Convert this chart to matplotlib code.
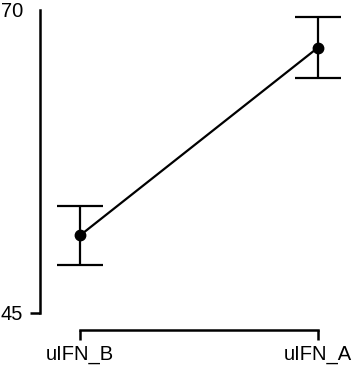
import matplotlib
matplotlib.use("Agg")
import matplotlib.pyplot as plt

categories = ["uIFN_B", "uIFN_A"]
means = [51.4, 66.9]
errors = [2.45, 2.5]
yticks = [45, 70]

W, H = 354, 368
fig = plt.figure(figsize=(W / 100, H / 100), dpi=100)
left, right, top, bottom = 40, 350, 10, 313
ax = fig.add_axes([left / W, 1 - bottom / H, (right - left) / W, (bottom - top) / H])

x = list(range(len(categories)))
ax.errorbar(x, means, yerr=errors, fmt='o-', color='black', lw=1.6,
            elinewidth=1.6, capsize=16.5, capthick=1.6, markersize=7.5)

ax.set_ylim(45, 70)
ax.set_xlim(-40 / 238, (right - 80) / 238)
ax.set_yticks(yticks)
ax.set_xticks(x)
ax.set_xticklabels(categories)

for s in ['top', 'right']:
    ax.spines[s].set_visible(False)
ax.spines['left'].set_linewidth(1.8)
ax.spines['bottom'].set_linewidth(1.8)
ax.spines['bottom'].set_position(('outward', 12.2))
ax.spines['bottom'].set_bounds(0, 1)

ax.tick_params(axis='both', direction='out', length=7.2, width=1.8,
               labelsize=14.5, pad=5)
ax.tick_params(axis='x', pad=4)
for lab in ax.get_xticklabels() + ax.get_yticklabels():
    lab.set_fontfamily('Liberation Sans')
ax.yaxis.get_major_ticks()[1].tick1line.set_visible(False)

fig.savefig("out.png", dpi=100)
